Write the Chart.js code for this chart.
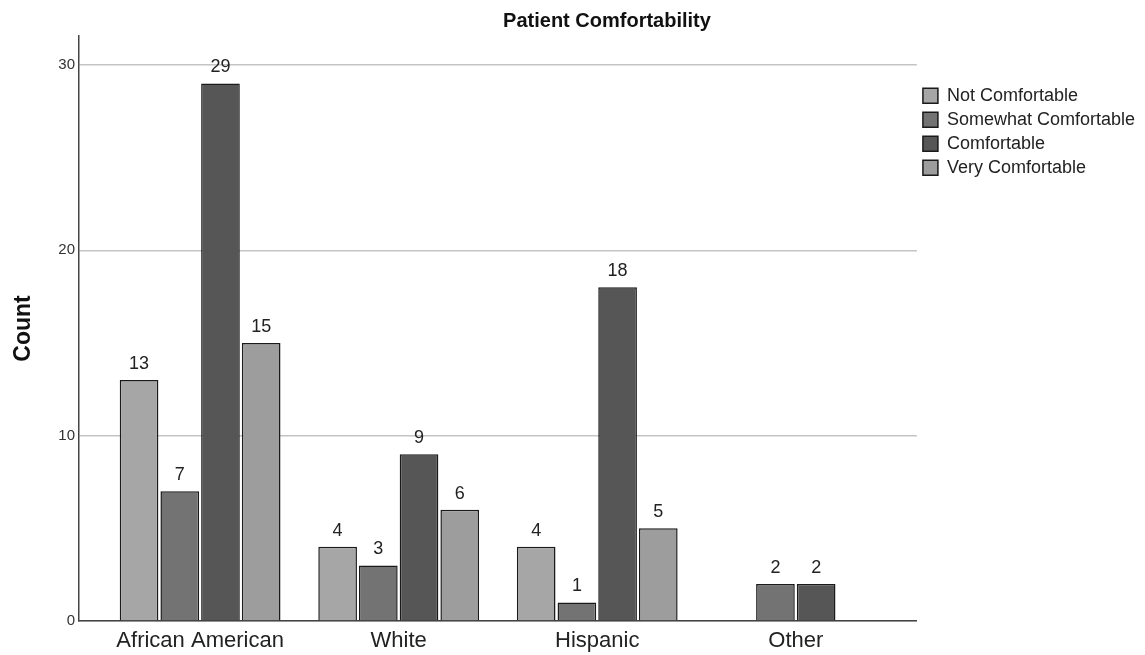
<!DOCTYPE html>
<html lang="en">
  <head>
    <meta charset="UTF-8" />
    <title>Patient Comfortability</title>
    <script src="https://cdn.jsdelivr.net/npm/chart.js@4"></script>
    <style>
      body { margin: 0; background: #fff; }
      #wrap { width: 1145px; height: 655px; }
    </style>
  </head>
  <body>
    <div id="wrap"><canvas id="myChart" width="1145" height="655"></canvas></div>
    <script>
      // data
      const groups = ['African American', 'White', 'Hispanic', 'Other'];
      const notComfortable = [13, 4, 4, null];
      const somewhatComfortable = [7, 3, 1, 2];
      const comfortable = [29, 9, 18, 2];
      const veryComfortable = [15, 6, 5, null];
      const seriesNames = ['Not Comfortable', 'Somewhat Comfortable', 'Comfortable', 'Very Comfortable'];
      const yTicks = [0, 10, 20, 30];

      const colors = ['#a6a6a6', '#737373', '#565656', '#9d9d9d'];
      const font = '"Liberation Sans", Arial, sans-serif';
      const xPad = 0.11; // extra room either side of the groups

      const seriesValues = [notComfortable, somewhatComfortable, comfortable, veryComfortable];
      const datasets = seriesNames.map(function (name, i) {
        return {
          label: name,
          data: seriesValues[i],
          backgroundColor: colors[i],
          borderColor: '#1a1a1a',
          borderWidth: 1.5,
          categoryPercentage: 0.82,
          barPercentage: 0.95
        };
      });

      // numbers over the bars
      const barLabels = {
        id: 'barLabels',
        afterDatasetsDraw(chart) {
          const ctx = chart.ctx;
          ctx.save();
          ctx.font = '18px ' + font;
          ctx.fillStyle = '#222';
          ctx.textAlign = 'center';
          ctx.textBaseline = 'bottom';
          chart.data.datasets.forEach(function (ds, i) {
            chart.getDatasetMeta(i).data.forEach(function (bar, j) {
              if (ds.data[j] == null) return;
              ctx.fillText(ds.data[j], bar.x, bar.y - 7);
            });
          });
          ctx.restore();
        }
      };

      // title sits a bit right of centre, like the original
      const topTitle = {
        id: 'topTitle',
        afterDraw(chart) {
          const ctx = chart.ctx;
          ctx.save();
          ctx.font = 'bold 20px ' + font;
          ctx.fillStyle = '#111';
          ctx.textAlign = 'center';
          ctx.textBaseline = 'middle';
          ctx.fillText('Patient Comfortability', 607, 21);
          ctx.restore();
        }
      };

      new Chart(document.getElementById('myChart').getContext('2d'), {
        type: 'bar',
        data: { labels: groups, datasets: datasets },
        plugins: [barLabels, topTitle],
        options: {
          responsive: false,
          animation: false,
          layout: { padding: { top: 36, right: 0, bottom: 0, left: 0 } },
          plugins: {
            tooltip: { enabled: false },
            legend: {
              position: 'right',
              align: 'start',
              title: { display: true, text: ' ', padding: { top: 40, bottom: 0 }, font: { size: 4 } },
              labels: {
                boxWidth: 15,
                boxHeight: 15,
                padding: 6,
                color: '#222',
                font: { family: font, size: 18 }
              }
            }
          },
          scales: {
            x: {
              afterBuildTicks: function (scale) {
                scale._startValue = -0.5 - xPad;
                scale._valueRange = groups.length + 2 * xPad;
              },
              afterFit: function (scale) { scale.height = 34; },
              grid: { display: false, drawTicks: false },
              border: { display: true, color: '#444', width: 1.5 },
              ticks: { color: '#222', padding: 7, font: { family: font, size: 22 } }
            },
            y: {
              min: 0,
              max: 31.56,
              afterBuildTicks: function (scale) {
                scale.ticks = yTicks.map(function (v) { return { value: v }; });
              },
              afterFit: function (scale) { scale.width = 79; },
              grid: { color: '#c4c4c4', lineWidth: 1.5, drawTicks: false },
              border: { display: true, color: '#444', width: 1.5 },
              ticks: { color: '#333', padding: 4, font: { family: font, size: 15 } },
              title: {
                display: true,
                text: 'Count',
                color: '#111',
                padding: { top: 10, bottom: 0 },
                font: { family: font, size: 23, weight: 'bold' }
              }
            }
          }
        }
      });
    </script>
  </body>
</html>
